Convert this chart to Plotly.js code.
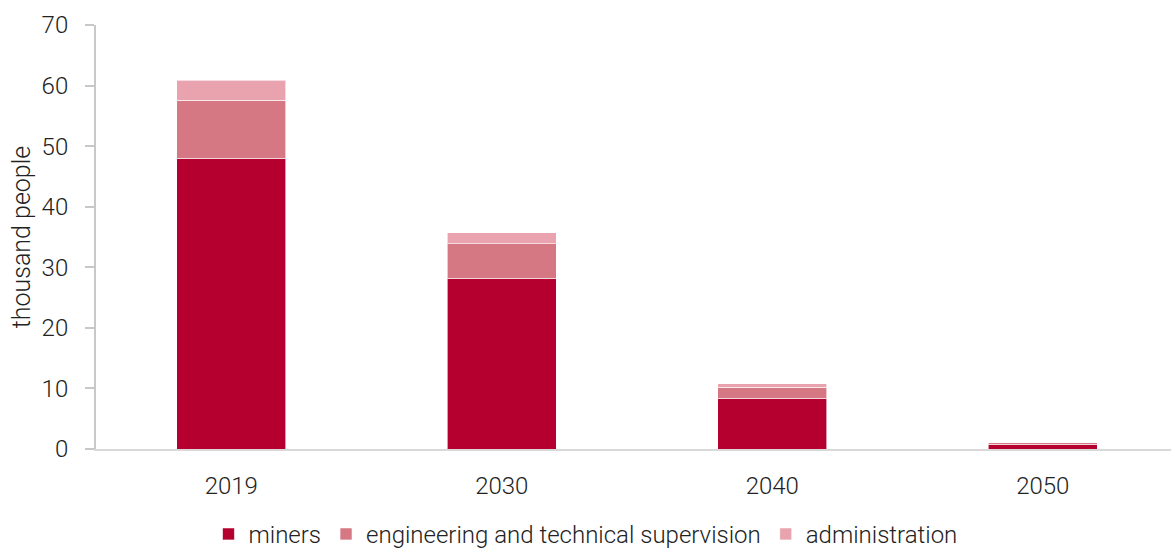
<!DOCTYPE html>
<html>
<head>
<meta charset="utf-8">
<script src="https://cdn.plot.ly/plotly-3.0.1.min.js"></script>
<style>html,body{margin:0;padding:0;background:#fff;}#chart{width:1171px;height:552px;}</style>
</head>
<body>
<div id="chart"></div>
<script>
const years = ["2019", "2030", "2040", "2050"];
const miners = [48.0, 28.2, 8.4, 0.8];
const engineering = [9.6, 5.7, 1.8, 0.2];
const administration = [3.3, 1.8, 0.55, 0.05];
const seriesNames = ["miners", "engineering and technical supervision", "administration"];
const yTicks = [0, 10, 20, 30, 40, 50, 60, 70];

const colors = ["#b5002f", "#d67784", "#e8a3ae"];
const font = {family: "Roboto, 'Noto Sans', sans-serif", size: 24, color: "#222", weight: 300};

const mk = (y, i) => ({
  type: "bar", x: years, y: y, name: seriesNames[i],
  marker: {color: colors[i], line: {color: "rgba(255,255,255,0.6)", width: 1}},
  hoverinfo: "skip"
});

const data = [mk(miners, 0), mk(engineering, 1), mk(administration, 2)];

const layout = {
  width: 1171, height: 552,
  margin: {l: 96, r: 0, t: 25, b: 103},
  barmode: "stack",
  bargap: 0.597,
  font: font,
  paper_bgcolor: "#fff", plot_bgcolor: "#fff",
  showlegend: true,
  legend: {orientation: "h", xref: "container", yref: "container", x: 0.5, xanchor: "center", y: 0.032, yanchor: "middle",
    font: font, itemclick: false, traceorder: "normal"},
  xaxis: {type: "category", range: [-0.5, 3.474], showgrid: false, zeroline: false,
    showline: true, linecolor: "#d9d9d9", linewidth: 2, ticks: "", tickfont: font, ticklabelstandoff: 14, fixedrange: true},
  yaxis: {range: [0, 70], tickvals: yTicks, ticktext: yTicks.map(String), showgrid: false, zeroline: false,
    showline: true, linecolor: "#c8c8c8", linewidth: 2, ticks: "outside", ticklen: 9, tickcolor: "#c8c8c8", tickwidth: 2,
    tickfont: font, ticklabelstandoff: 12,
    title: {text: "thousand people", font: {family: font.family, size: 25, color: "#222", weight: 300}, standoff: 4},
    fixedrange: true}
};

Plotly.newPlot("chart", data, layout, {displayModeBar: false, staticPlot: true});
</script>
</body>
</html>
